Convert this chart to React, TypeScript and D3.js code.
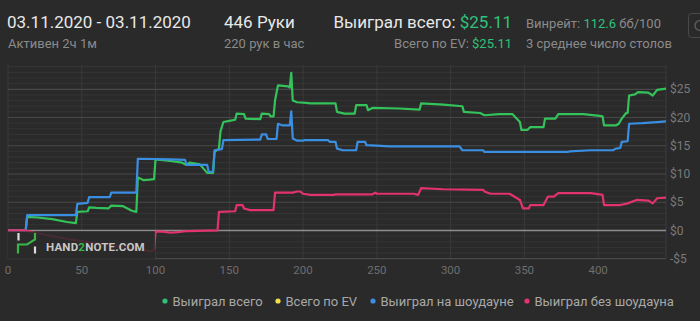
import React from "react";
import * as d3 from "d3";

type P = [number, number];

const totalWon: P[] = [
  [0, 0], [12, 0], [13, 2.4], [20, 2.3], [30, 2.0], [40, 1.5], [46, 1.3], [47, 3.3], [54, 3.4], [55, 4.1],
  [60, 4.0], [68, 3.9], [70, 4.4], [78, 4.3], [84, 3.5], [87, 3.3], [88, 9.4], [92, 8.9], [96, 9.0], [99, 9.1],
  [100, 12.6], [110, 12.3], [118, 12.0], [121, 11.6], [123, 12.0], [130, 11.7], [135, 10.2], [139, 10.2],
  [140, 13.9], [143, 14.5], [144, 17.5], [146, 19.2], [150, 19.4], [154, 19.6], [155, 20.7], [160, 20.6],
  [161, 19.8], [171, 19.7], [172, 20.7], [177, 20.6], [178, 20.2], [180, 20.2], [181, 23.0], [183, 25.7],
  [190, 25.5], [191, 25.3], [192, 27.9], [193, 23.0], [196, 22.7], [202, 22.6], [205, 22.5], [222, 22.5],
  [223, 21.0], [228, 20.7], [235, 20.7], [236, 22.2], [243, 22.2], [244, 21.3], [247, 21.7], [265, 21.6],
  [279, 21.4], [280, 22.5], [295, 22.3], [308, 22.0], [309, 21.0], [320, 20.8], [323, 20.4], [333, 20.6],
  [342, 20.6], [347, 19.2], [348, 17.8], [352, 17.8], [354, 18.3], [363, 18.3], [364, 19.8], [371, 19.8],
  [373, 20.6], [390, 20.6], [401, 20.3], [403, 20.2], [404, 18.6], [412, 18.6], [414, 18.9], [416, 19.8],
  [419, 20.8], [420, 20.8], [421, 23.9], [425, 24.1], [427, 24.5], [434, 24.4], [437, 23.9], [440, 24.9],
  [446, 25.11],
];

const showdownWon: P[] = [
  [0, 0], [12, 0], [13, 2.7], [46, 2.7], [47, 4.7], [54, 4.9], [55, 5.9], [69, 5.9], [70, 6.7], [87, 6.7],
  [88, 12.7], [110, 12.6], [120, 12.5], [121, 11.6], [135, 11.6], [136, 10.4], [139, 10.4], [140, 14.2],
  [145, 14.4], [146, 16.0], [171, 16.1], [172, 17.0], [175, 17.0], [176, 16.2], [182, 16.2], [183, 18.9],
  [186, 18.6], [191, 18.6], [192, 21.1], [193, 16.3], [196, 15.9], [200, 15.9], [201, 16.0], [217, 16.0],
  [218, 15.7], [222, 15.7], [223, 14.5], [227, 14.2], [236, 14.2], [237, 15.7], [242, 15.7], [243, 15.1],
  [259, 14.9], [306, 14.9], [308, 14.2], [322, 14.2], [323, 13.9], [379, 13.9], [381, 14.0], [395, 14.2],
  [410, 14.2], [412, 14.5], [415, 14.6], [416, 15.7], [420, 15.8], [421, 18.9], [430, 19.0], [440, 19.2],
  [446, 19.3],
];

const nonShowdownWon: P[] = [
  [0, 0], [12, 0], [20, -0.5], [40, -1.5], [60, -2.3], [80, -3.0], [95, -3.6], [97, -3.7], [99, -3.4],
  [100, -0.2], [105, -0.2], [110, -0.4], [115, -0.3], [122, -0.1], [142, 0], [143, 3.3], [154, 3.4],
  [155, 4.5], [159, 4.5], [160, 3.9], [164, 3.6], [180, 3.6], [181, 6.7], [193, 6.7], [196, 6.9], [198, 6.9],
  [200, 6.5], [205, 6.3], [221, 6.3], [222, 6.4], [247, 6.4], [249, 6.7], [250, 6.5], [275, 6.5], [278, 6.3],
  [280, 7.5], [295, 7.3], [322, 7.2], [323, 6.9], [327, 6.5], [340, 6.5], [347, 5.4], [349, 3.9], [353, 3.9],
  [354, 4.5], [363, 4.5], [366, 6.0], [370, 6.0], [373, 6.6], [395, 6.6], [401, 6.4], [403, 6.3], [404, 4.5],
  [415, 4.5], [420, 4.8], [426, 5.4], [434, 5.3], [437, 4.8], [440, 5.7], [446, 5.8],
];

const xTicks = [0, 50, 100, 150, 200, 250, 300, 350, 400];
const yTicks = [-5, 0, 5, 10, 15, 20, 25];
const legendLabels = ["Выиграл всего", "Всего по EV", "Выиграл на шоудауне", "Выиграл без шоудауна"];

const GREEN = "#34c35a";
const BLUE = "#3a8fe3";
const PINK = "#e2336c";
const YELLOW = "#eee04a";
const TXT = "#e8e8e8";
const GRAY = "#8a8a8a";
const ACCENT = "#2ec27a";
const FONT = "Roboto, 'Noto Sans', sans-serif";

export default function App() {
  const W = 700, H = 321;
  const x = d3.scaleLinear().domain([0, 446]).range([8, 666]);
  const y = d3.scaleLinear().domain([-5, 29.3]).range([258.7, 65]);
  const line = d3.line<P>().x((d) => x(d[0])).y((d) => y(d[1])).curve(d3.curveLinear);
  const minor = d3.range(-4, 30).filter((v) => v % 5 !== 0);
  const legendX = [165, 278, 373, 527];
  const legendCol = [ACCENT, YELLOW, BLUE, PINK];

  return (
    <div style={{ position: "absolute", left: 0, top: 0, width: W, height: H }}>
      <svg width={W} height={H} style={{ display: "block", background: "#2a2a2a" }} fontFamily={FONT}>
        <rect x={0} y={0} width={W} height={H} fill="#2a2a2a" />
        {/* header */}
        <text x={7} y={28} fontSize={17} fill={TXT}>03.11.2020 - 03.11.2020</text>
        <text x={8} y={48} fontSize={13} fill={GRAY}>Активен 2ч 1м</text>
        <text x={224} y={28} fontSize={17} fill={TXT}>446 Руки</text>
        <text x={224} y={48} fontSize={13} fill={GRAY}>220 рук в час</text>
        <text x={512} y={28} fontSize={17} fill={TXT} textAnchor="end">
          Выиграл всего: <tspan fill={ACCENT}>$25.11</tspan>
        </text>
        <text x={512} y={48} fontSize={13} fill={GRAY} textAnchor="end">
          Всего по EV: <tspan fill={ACCENT}>$25.11</tspan>
        </text>
        <text x={526} y={28} fontSize={13} fill={GRAY}>
          Винрейт: <tspan fill={ACCENT}>112.6</tspan> бб/100
        </text>
        <text x={526} y={48} fontSize={13} fill={GRAY}>3 среднее число столов</text>
        {/* gear button */}
        <rect x={688.5} y={13.5} width={24} height={24} rx={3} fill="none" stroke="#4a4a4a" />
        <circle cx={700} cy={25.5} r={5} fill="none" stroke="#5a5a5a" strokeWidth={1.5} />

        {/* grid */}
        {minor.map((v) => (
          <line key={"m" + v} x1={8} x2={666} y1={y(v)} y2={y(v)} stroke="#353535" strokeWidth={1} />
        ))}
        {xTicks.map((t) => (
          <line key={"v" + t} x1={x(t)} x2={x(t)} y1={65} y2={258.7} stroke="#3a3a3a" strokeWidth={1} />
        ))}
        <line x1={666} x2={666} y1={65} y2={258.7} stroke="#3a3a3a" />
        {yTicks.map((v) => (
          <line key={"y" + v} x1={8} x2={666} y1={y(v)} y2={y(v)}
            stroke={v === 0 ? "#8e8e8e" : "#484848"} strokeWidth={v === 0 ? 1.6 : 1.2} />
        ))}

        {/* series */}
        <path d={line(totalWon) || ""} fill="none" stroke={GREEN} strokeWidth={2.2} strokeLinejoin="round" />
        <path d={line(showdownWon) || ""} fill="none" stroke={BLUE} strokeWidth={2.2} strokeLinejoin="round" />
        <path d={line(nonShowdownWon) || ""} fill="none" stroke={PINK} strokeWidth={2.2} strokeLinejoin="round" />

        {/* watermark */}
        <rect x={8} y={231.5} width={147} height={27.5} fill="#2a2a2a" fillOpacity={0.86} />
        <g fill="none" strokeWidth={2.2}>
          <line x1={18.5} x2={18.5} y1={233} y2={240.5} stroke="#dddddd" />
          <polyline points="18,253.5 18,244.5 27,244.5 35,239.5 35,233" stroke="#39b54a" />
          <line x1={35} x2={35} y1={246.5} y2={253.5} stroke="#dddddd" />
        </g>
        <text x={46} y={251} fontSize={11.5} fontWeight={700} fill="#c8c8c8" letterSpacing={0.2}>
          HAND<tspan fill="#39b54a">2</tspan>NOTE.COM
        </text>

        {/* axes labels */}
        {yTicks.map((v) => (
          <text key={"yl" + v} x={670} y={y(v)} dy="0.35em" fontSize={12} fill="#7a7a7a">
            {v < 0 ? `-$${Math.abs(v)}` : `$${v}`}
          </text>
        ))}
        {xTicks.map((t) => (
          <text key={"xl" + t} x={x(t)} y={274} fontSize={11.5} fill="#6e6e6e" textAnchor="middle">{t}</text>
        ))}

        {/* legend */}
        {legendLabels.map((l, i) => (
          <g key={l}>
            <circle cx={legendX[i]} cy={301} r={2.6} fill={legendCol[i]} />
            <text x={legendX[i] + 7.5} y={301} dy="0.35em" fontSize={13} fill="#a8a8a8">{l}</text>
          </g>
        ))}
      </svg>
    </div>
  );
}
